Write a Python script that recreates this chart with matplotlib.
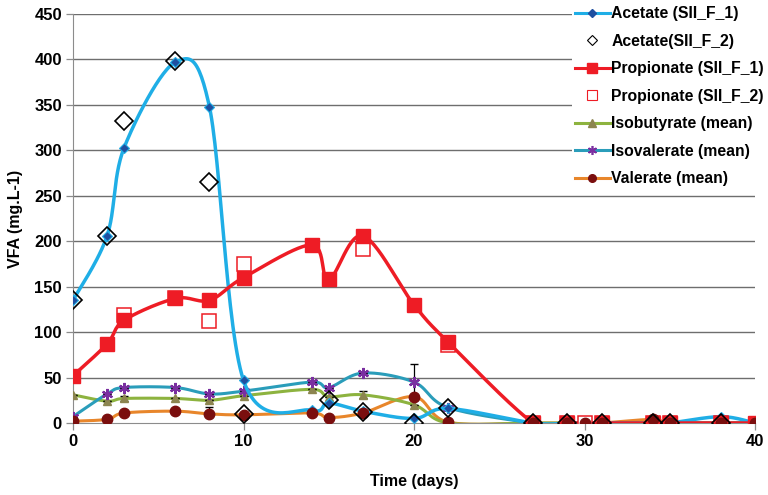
import numpy as np
import matplotlib
matplotlib.use("Agg")
import matplotlib.pyplot as plt
from matplotlib.lines import Line2D

plt.rcParams['font.family'] = ['Liberation Sans', 'DejaVu Sans']
plt.rcParams['font.weight'] = 'bold'

# ---------------- data ----------------
ac1_days = [0, 2, 3, 6, 8, 10, 14, 15, 17, 20, 22, 27, 29, 30, 31, 34, 35, 38, 40]
ac1_vals = [135, 206, 303, 397, 348, 47, 14, 22, 13, 5, 16, 0, 0, 0, 0, 0, 0, 7, 0]

ac2_days = [0, 2, 3, 6, 8, 10, 15, 17, 20, 22, 27, 29, 31, 34, 35, 38]
ac2_vals = [135, 206, 332, 398, 265, 10, 25, 12, 0, 17, 0, 0, 0, 0, 0, 0]

pr1_days = [0, 2, 3, 6, 8, 10, 14, 15, 17, 20, 22, 27, 29, 31, 34, 35, 38, 40]
pr1_vals = [52, 87, 113, 137, 135, 160, 196, 158, 206, 130, 89, 0, 0, 0, 0, 0, 0, 0]

pr2_days = [3, 6, 8, 10, 17, 22, 27, 29, 30, 31, 34, 35, 38]
pr2_vals = [119, 138, 112, 175, 191, 86, 0, 0, 0, 0, 0, 0, 0]

mean_days = [0, 2, 3, 6, 8, 10, 14, 15, 17, 20, 22, 27, 29, 30, 31, 34, 35, 38, 40]
isobut_vals = [31, 24, 27, 27, 25, 30, 37, 29, 31, 20, 0, 0, 0, 0, 0, 0, 0, 0, 0]
isoval_vals = [7, 32, 39, 39, 32, 35, 45, 39, 55, 45, 17, 0, 0, 0, 0, 0, 0, 0, 0]
val_vals = [2, 4, 11, 13, 10, 9, 11, 6, 11, 29, 1, 0, 0, 0, 0, 4, 0, 0, 0]

isobut_err = [0, 0, 3, 0, 0, 0, 0, 0, 4, 0, 0, 0, 0, 0, 0, 0, 0, 0, 0]
isoval_err = [0, 0, 0, 0, 0, 0, 0, 0, 0, 20, 0, 0, 0, 0, 0, 0, 0, 0, 0]
val_err = [0, 0, 0, 0, 8, 0, 0, 0, 0, 0, 0, 0, 0, 0, 0, 0, 0, 0, 0]

x_ticks = [0, 10, 20, 30, 40]
y_ticks = [0, 50, 100, 150, 200, 250, 300, 350, 400, 450]

# ---------------- smoothing (Excel-like Bezier in screen space) ----------------
SX, SY = 17.05, 0.909


def smooth(xs, ys, n=30):
    P = np.column_stack([np.asarray(xs, float) * SX, np.asarray(ys, float) * SY])
    m = len(P)
    out = [P[0]]
    for i in range(m - 1):
        p0 = P[i - 1] if i > 0 else P[i]
        p1 = P[i]
        p2 = P[i + 1]
        p3 = P[i + 2] if i + 2 < m else P[i + 1]
        c1 = p1 + (p2 - p0) / 6.0
        c2 = p2 - (p3 - p1) / 6.0
        t = np.linspace(0, 1, n)[1:, None]
        seg = ((1 - t) ** 3) * p1 + 3 * ((1 - t) ** 2) * t * c1 + 3 * (1 - t) * t ** 2 * c2 + t ** 3 * p2
        out.extend(seg)
    out = np.array(out)
    return out[:, 0] / SX, out[:, 1] / SY


# ---------------- styles ----------------
c_ac = '#1FAEE6'
c_ac_m = '#1F4FA0'
c_pr = '#EE1C25'
c_ib = '#8DB33F'
c_ib_m = '#8C8550'
c_iv = '#2A9DBA'
c_iv_m = '#7A2FA0'
c_va = '#E8862B'
c_va_m = '#7A0E0E'
star = (6, 2, 0)

fig = plt.figure(figsize=(7.68, 4.95), dpi=100)
ax = fig.add_axes([73 / 768, 1 - 423 / 495, (755 - 73) / 768, (423 - 14) / 495])

ax.set_xlim(0, 40)
ax.set_ylim(0, 450)

for yv in y_ticks[1:]:
    ax.axhline(yv, color='#6E6E6E', lw=1.0, zorder=0)

lw = 2.2

# valerate
xs, ys = smooth(mean_days, val_vals)
ax.plot(xs, ys, color=c_va, lw=lw, zorder=2)
ax.errorbar(mean_days, val_vals, yerr=[[0] * len(val_err), val_err], fmt='none',
            ecolor='black', elinewidth=0.9, capsize=3, zorder=2)
ax.plot(mean_days, val_vals, 'o', color=c_va_m, ms=7.5, mec=c_va_m, zorder=6)

# isobutyrate
xs, ys = smooth(mean_days, isobut_vals)
ax.plot(xs, ys, color=c_ib, lw=lw, zorder=2)
ax.errorbar(mean_days, isobut_vals, yerr=isobut_err, fmt='none',
            ecolor='black', elinewidth=0.9, capsize=3, zorder=2)
ax.plot(mean_days, isobut_vals, '^', color=c_ib_m, ms=6, zorder=3)

# isovalerate
xs, ys = smooth(mean_days, isoval_vals)
ax.plot(xs, ys, color=c_iv, lw=lw, zorder=2)
ax.errorbar(mean_days, isoval_vals, yerr=[isoval_err, isoval_err], fmt='none',
            ecolor='black', elinewidth=0.9, capsize=3, zorder=2)
ax.plot(mean_days, isoval_vals, marker=star, ls='none', color=c_iv_m, mec=c_iv_m,
        ms=8, mew=1.6, zorder=3)

# acetate F1
xs, ys = smooth(ac1_days, ac1_vals)
ax.plot(xs, ys, color=c_ac, lw=lw + 0.3, zorder=3)
ax.plot(ac1_days, ac1_vals, 'D', color=c_ac_m, ms=5, mec=c_ac, mew=0.8, zorder=4)

# propionate F1
xs, ys = smooth(pr1_days, pr1_vals)
ax.plot(xs, ys, color=c_pr, lw=lw + 0.3, zorder=3)
ax.plot(pr1_days, pr1_vals, 's', color=c_pr, ms=10, zorder=5)

# propionate F2
ax.plot(pr2_days, pr2_vals, 's', mfc='white', mec=c_pr, ms=10, mew=1.1, zorder=4)
# acetate F2
ax.plot(ac2_days, ac2_vals, 'D', mfc='none', mec='black', ms=9, mew=1.2, zorder=6)

# axes styling
for s in ['top', 'right']:
    ax.spines[s].set_visible(False)
ax.spines['left'].set_color('#8C8C8C')
ax.spines['bottom'].set_color('#8C8C8C')
ax.set_xticks(x_ticks)
ax.set_yticks(y_ticks)
ax.tick_params(axis='both', direction='out', length=5, width=0.9, color='#8C8C8C',
               labelsize=12, pad=3)
for lab in ax.get_xticklabels() + ax.get_yticklabels():
    lab.set_fontweight('bold')
ax.set_xlabel('Time (days)', fontsize=11.5, fontweight='bold', labelpad=18)
ax.set_ylabel('VFA (mg.L-1)', fontsize=11.5, fontweight='bold', labelpad=8)

# legend
handles = [
    Line2D([], [], color=c_ac, lw=lw, marker='D', mfc=c_ac_m, mec=c_ac_m, ms=4.5),
    Line2D([], [], ls='none', marker='D', mfc='white', mec='black', ms=5.5, mew=0.8),
    Line2D([], [], color=c_pr, lw=lw, marker='s', mfc=c_pr, mec=c_pr, ms=6.5),
    Line2D([], [], ls='none', marker='s', mfc='white', mec=c_pr, ms=6.5, mew=0.8),
    Line2D([], [], color=c_ib, lw=lw, marker='^', mfc=c_ib_m, mec=c_ib_m, ms=5.5),
    Line2D([], [], color=c_iv, lw=lw, marker=star, mfc=c_iv_m, mec=c_iv_m, ms=6.5, mew=1.2),
    Line2D([], [], color=c_va, lw=lw, marker='o', mfc=c_va_m, mec=c_va_m, ms=5.5),
]
labels = ['Acetate (SII_F_1)', 'Acetate(SII_F_2)', 'Propionate (SII_F_1)',
          'Propionate (SII_F_2)', 'Isobutyrate (mean)', 'Isovalerate (mean)',
          'Valerate (mean)']
leg = fig.legend(handles, labels, loc='upper left', bbox_to_anchor=(572 / 768, 1 - 3 / 495),
                 frameon=True, fancybox=False, edgecolor='none', facecolor='white',
                 framealpha=1, prop={'weight': 'bold', 'size': 11.3}, handlelength=2.2,
                 handletextpad=0.1, labelspacing=0.8, borderpad=0.2, borderaxespad=0)

fig.savefig('out.png', dpi=100)
